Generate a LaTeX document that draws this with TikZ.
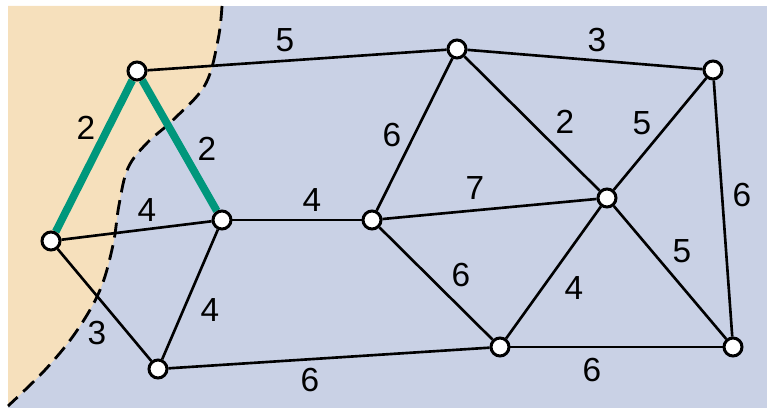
\documentclass[tikz,border=0pt]{standalone}
\usepackage{fontspec}
\setmainfont{Liberation Sans}
\usepackage{xcolor}
\definecolor{fondBleu}{HTML}{C9D1E5}
\definecolor{fondSable}{HTML}{F6E0BC}
\definecolor{arbreVert}{HTML}{00977C}
\usepackage{tikz}
\usetikzlibrary{positioning, backgrounds}
\tikzset{
  %% ── Vertices ─────────────────────────────────────────────────────────
  sommet/.style  = {circle, draw=black, fill=white, line width=1.7pt,
                    minimum size=0.36cm, inner sep=0pt},
  %%
  %% ── Edges ────────────────────────────────────────────────────────────
  arete/.style   = {draw=black, line width=1.5pt},
  areteArbre/.style = {draw=arbreVert, line width=4.4pt},
  coupure/.style = {draw=black, line width=1.6pt,
                    dash pattern=on 8.5pt off 4.5pt},
  %%
  %% ── Text ─────────────────────────────────────────────────────────────
  poids/.style   = {font=\fontsize{19}{22}\selectfont, text=black,
                    inner sep=0pt},
}

\begin{document}
\begin{tikzpicture}[x=0.02cm, y=-0.02cm]

\useasboundingbox (0,0) rectangle (767,408);

\node[sommet] (n1) at (137, 71) {};
\node[sommet] (n2) at (51, 241) {};
\node[sommet] (n3) at (222, 220) {};
\node[sommet] (n4) at (158, 369) {};
\node[sommet] (n5) at (457, 49) {};
\node[sommet] (n6) at (372, 220) {};
\node[sommet] (n7) at (713, 70) {};
\node[sommet] (n8) at (607, 198) {};
\node[sommet] (n9) at (500, 347) {};
\node[sommet] (n10) at (733, 347) {};

\begin{scope}[on background layer]
\fill[fondBleu] (8,6) rectangle (767,408);
\fill[fondSable] (8,6) -- plot[smooth, tension=0.6] coordinates {(222,6) (218,40)
  (205,85) (173,120) (147,143) (128,168) (119,205) (113,245) (100,290) (76,332)
  (45,370) (8,406)} -- (8,408) -- cycle;
\draw[coupure] plot[smooth, tension=0.6] coordinates {(222,6) (218,40)
  (205,85) (173,120) (147,143) (128,168) (119,205) (113,245) (100,290) (76,332)
  (45,370) (8,406)};
\foreach \i/\j in {1/5, 2/3, 2/4, 3/4, 3/6, 4/9, 5/7, 5/6, 5/8, 6/8, 6/9,
                   7/8, 7/10, 8/9, 8/10, 9/10}
  \draw[arete] (n\i) -- (n\j);
\foreach \i/\j in {1/2, 1/3} \draw[areteArbre] (n\i) -- (n\j);
\end{scope}

\foreach \n/\x/\y/\t in {p15/285/40/5, p57/597/40/3, p12/86/128/2, p13/207/149/2,
    p23/147/210/4, p36/312/200/4, p56/392/135/6, p58/565/122/2, p78/642/123/5,
    p68/475/188/7, p710/742/195/6, p69/461/275/6, p89/574/288/4, p810/682/251/5,
    p34/210/310/4, p24/97/333/3, p49/310/380/6, p910/592/370/6}
  \node[poids] (\n) at (\x,\y) {\t};

\end{tikzpicture}
\end{document}
